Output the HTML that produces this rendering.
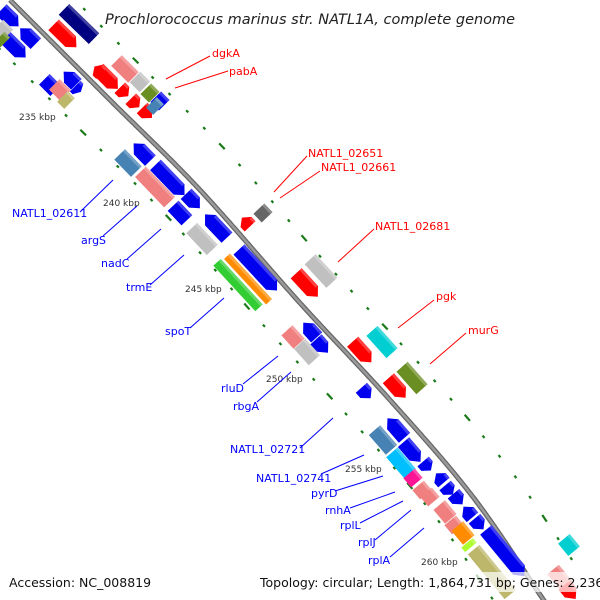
<!DOCTYPE html>
<html><head><meta charset="utf-8"><style>
html,body{margin:0;padding:0;background:#fff;width:600px;height:600px;overflow:hidden}
svg text{font-family:"DejaVu Sans","Liberation Sans",sans-serif}
</style></head><body>
<svg id="s" width="600" height="600" viewBox="0 0 600 600" xmlns="http://www.w3.org/2000/svg">
<rect width="600" height="600" fill="#fff"/>
<g id="dots"></g>
<path id="bb1" d="" fill="none" stroke="#666" stroke-width="5"/>
<path id="bb2" d="" fill="none" stroke="#9a9a9a" stroke-width="2.5"/>
<g id="genes"></g>
<g font-size="9" fill="#333">
<text x="19" y="120">235 kbp</text>
<text x="103" y="206">240 kbp</text>
<text x="185" y="292">245 kbp</text>
<text x="266" y="382">250 kbp</text>
<text x="345" y="472">255 kbp</text>
<text x="421" y="565">260 kbp</text>
</g>
<g stroke="#f00" stroke-width="1">
<line x1="166" y1="79" x2="210" y2="56"/><line x1="175" y1="88" x2="228" y2="71"/>
<line x1="274" y1="192" x2="307" y2="156"/><line x1="280" y1="198" x2="320" y2="171"/>
<line x1="338" y1="262" x2="374" y2="229"/><line x1="398" y1="328" x2="434" y2="300"/>
<line x1="430" y1="364" x2="466" y2="333"/>
</g>
<g fill="#f00" font-size="11">
<text x="212" y="57">dgkA</text><text x="229" y="75">pabA</text>
<text x="308" y="157">NATL1_02651</text><text x="321" y="171">NATL1_02661</text>
<text x="375" y="230">NATL1_02681</text><text x="436" y="300">pgk</text><text x="468" y="334">murG</text>
</g>
<g stroke="#00f" stroke-width="1">
<line x1="80" y1="212" x2="113" y2="180"/><line x1="103" y1="236" x2="137" y2="206"/>
<line x1="127" y1="259" x2="161" y2="229"/><line x1="150" y1="285" x2="184" y2="255"/>
<line x1="190" y1="328" x2="224" y2="298"/><line x1="243" y1="384" x2="278" y2="356"/>
<line x1="257" y1="402" x2="291" y2="372"/><line x1="300" y1="448" x2="333" y2="418"/>
<line x1="321" y1="474" x2="364" y2="455"/><line x1="335" y1="491" x2="383" y2="476"/>
<line x1="350" y1="508" x2="395" y2="492"/><line x1="360" y1="523" x2="403" y2="501"/>
<line x1="375" y1="540" x2="411" y2="510"/><line x1="390" y1="557" x2="424" y2="528"/>
</g>
<g fill="#00f" font-size="11">
<text x="12" y="217">NATL1_02611</text><text x="81" y="244">argS</text><text x="101" y="267">nadC</text>
<text x="126" y="291">trmE</text><text x="165" y="335">spoT</text><text x="221" y="392">rluD</text>
<text x="233" y="410">rbgA</text><text x="230" y="453">NATL1_02721</text><text x="256" y="482">NATL1_02741</text>
<text x="311" y="497">pyrD</text><text x="325" y="514">rnhA</text><text x="340" y="529">rplL</text>
<text x="358" y="546">rplJ</text><text x="368" y="564">rplA</text>
</g>
<text x="105" y="24" font-size="14.5" font-style="italic" fill="#222">Prochlorococcus marinus str. NATL1A, complete genome</text>
<rect x="256" y="572" width="338" height="20" fill="#fff" opacity="0.7"/>
<text x="9" y="587" font-size="12.5" fill="#111">Accession: NC_008819</text>
<text x="260" y="587" font-size="12.5" fill="#111">Topology: circular; Length: 1,864,731 bp; Genes: 2,236</text>
</svg>
<script>
var NS="http://www.w3.org/2000/svg";
var P=[[-2,-12],[10,0],[110,100],[200,190],[300,303],[390,400],[473,497],[545,602],[555,615]];
// catmull-rom sample
var pts=[];
for(var i=1;i<P.length-2;i++){var p0=P[i-1],p1=P[i],p2=P[i+1],p3=P[i+2];
 for(var t=0;t<1;t+=0.01){var t2=t*t,t3=t2*t;
  var x=0.5*((2*p1[0])+(-p0[0]+p2[0])*t+(2*p0[0]-5*p1[0]+4*p2[0]-p3[0])*t2+(-p0[0]+3*p1[0]-3*p2[0]+p3[0])*t3);
  var y=0.5*((2*p1[1])+(-p0[1]+p2[1])*t+(2*p0[1]-5*p1[1]+4*p2[1]-p3[1])*t2+(-p0[1]+3*p1[1]-3*p2[1]+p3[1])*t3);
  pts.push([x,y]);}}
pts.push(P[P.length-2]);
var d="M"+pts.map(function(p){return p[0].toFixed(1)+" "+p[1].toFixed(1)}).join(" L");
document.getElementById("bb1").setAttribute("d",d);document.getElementById("bb2").setAttribute("d",d);
function ang(y){return 44+7*y/600;}
function gene(cx,cy,len,col,dir,w){
  w=w||15;var a=ang(cy),h=len/2,k=w/2,hd=Math.min(8,len/2);
  var p;
  if(dir>0)p=[[-h,-k],[h-hd,-k],[h,0],[h-hd,k],[-h,k]];
  else if(dir<0)p=[[h,-k],[-h+hd,-k],[-h,0],[-h+hd,k],[h,k]];
  else p=[[-h,-k],[h,-k],[h,k],[-h,k]];
  var g=document.createElementNS(NS,"g");
  g.setAttribute("transform","translate("+cx+","+cy+") rotate("+a+")");
  var e=document.createElementNS(NS,"polygon");
  e.setAttribute("points",p.map(function(q){return q.join(",")}).join(" "));
  e.setAttribute("fill",col);g.appendChild(e);
  var s=document.createElementNS(NS,"rect");
  s.setAttribute("x",-h+(dir<0?hd:0));s.setAttribute("y",-k);s.setAttribute("width",len-hd*(dir?1:0));s.setAttribute("height",3);
  s.setAttribute("fill","#fff");s.setAttribute("opacity","0.25");g.appendChild(s);
  document.getElementById("genes").appendChild(g);
}
var B="#0000ee",R="#f00",S="#f08080",G="#c0c0c0",SB="#4682b4",OL="#6b8e23",K="#bdb76b";
var L=[
[10,18,24,B,1],[15,47,30,B,1],[3,30,14,G,0],[2,40,8,OL,0],[28,36,22,B,-1],
[79,24,42,"#000080",0],[65,36,32,R,1],
[50,85,16,B,0],[60,90,16,S,0],[66,100,10,K,0],[70,78,18,B,-1],[78,89,8,B,1],
[125,69,24,S,0],[108,79,28,R,1],[98,70,10,R,-1],[124,92,12,R,1],[135,103,12,R,1],[147,113,14,R,1],
[140,82,14,G,0],[150,93,12,OL,0],[160,101,12,B,0],[155,106,10,SB,0],
[128,163,24,SB,0],[155,187,42,S,0],[142,152,24,B,-1],[170,180,42,B,1],[193,201,20,B,1],[180,213,20,B,0],
[216,226,32,B,-1],[202,239,30,G,0],
[246,222,12,R,-1],[263,213,12,"#666",0],
[238,285,62,"#32cd32",0,10],[248,279,62,"#ff8c00",0,8],[258,270,56,B,1],
[307,285,32,R,1],[321,271,32,G,0],
[293,337,18,S,0],[307,352,22,G,0],[310,330,20,B,-1],[322,346,18,B,1],
[382,342,30,"#00ced1",0],[362,352,28,R,1],
[412,378,30,OL,0],[397,388,26,R,1],[366,393,14,B,1],
[383,440,26,SB,0],[396,428,26,B,-1],[412,452,26,B,1],[401,463,28,"#00bfff",0],[413,478,12,"#ff1493",0],
[427,466,12,B,1],[440,478,12,B,-1],[449,490,12,B,1],[422,490,12,S,0],[430,497,12,S,0],[445,512,18,S,0],[454,525,12,S,0],
[458,499,14,B,1],[468,512,14,B,-1],[479,524,14,B,1],[463,533,18,"#ff8c00",0],[469,545,6,"#adff2f",0],
[492,572,58,K,0],[505,553,60,B,1],
[569,545,16,"#00ced1",0],[560,578,22,S,0],[570,592,18,R,1]
];
L.forEach(function(x){gene(x[0],x[1],x[2],x[3],x[4],x[5]);});
function row(off,step,start,bigEvery){
 var D=document.getElementById("dots"),s=0,acc=start,i=0;
 for(var j=1;j<pts.length;j++){var a=pts[j-1],b=pts[j];var dx=b[0]-a[0],dy=b[1]-a[1],n=Math.hypot(dx,dy);if(!n)continue;
  s+=n;if(s>=acc){acc+=step;var ux=dx/n,uy=dy/n,nx=-uy,ny=ux;var cx=b[0]+nx*off,cy=b[1]+ny*off;
   var l=(i%bigEvery==0)?4:1.5;var e=document.createElementNS(NS,"line");
   e.setAttribute("x1",cx-ux*l);e.setAttribute("y1",cy-uy*l);e.setAttribute("x2",cx+ux*l);e.setAttribute("y2",cy+uy*l);
   e.setAttribute("stroke","#1a7a1a");e.setAttribute("stroke-width","2.2");D.appendChild(e);i++;}}
}
row(-46,24.2,10,5);
row(42,24.2,24,5);
</script>
</body></html>
